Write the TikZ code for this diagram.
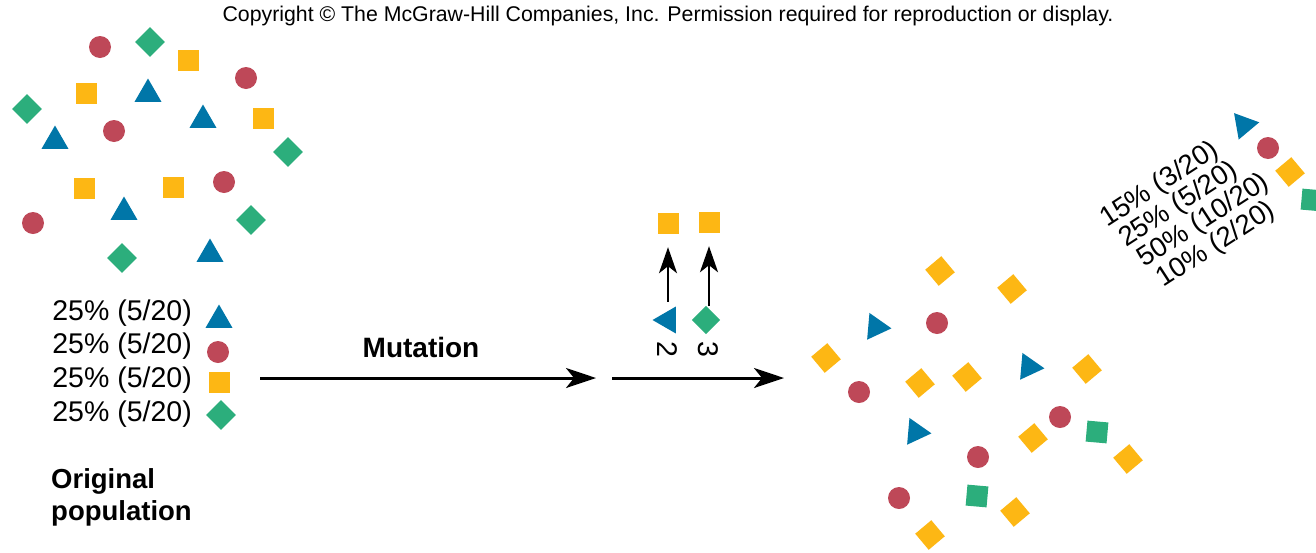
\documentclass[tikz,border=0pt]{standalone}
\usepackage{fontspec}
\setmainfont{Liberation Sans}
\usetikzlibrary{arrows.meta,shapes.geometric}
\definecolor{triblue}{RGB}{0,118,168}
\definecolor{dotred}{RGB}{190,72,88}
\definecolor{sqyellow}{RGB}{253,183,20}
\definecolor{dmdgreen}{RGB}{44,174,124}
\tikzset{
  trishape/.style={regular polygon, regular polygon sides=3, fill=triblue, inner sep=0pt, minimum size=31pt},
  triup/.style={trishape, yshift=-4pt},
  trileft/.style={trishape, shape border rotate=90, xshift=4pt},
  triright/.style={trishape, shape border rotate=-95, xshift=-4pt},
  dot/.style={circle, fill=dotred, inner sep=0pt, minimum size=22pt},
  sq/.style={rectangle, fill=sqyellow, inner sep=0pt, minimum size=21pt},
  sqtilt/.style={sq, rotate=40},
  dmd/.style={sq, fill=dmdgreen, rotate=45},
  gsq/.style={sq, fill=dmdgreen, rotate=-5},
  pct/.style={font=\fontsize{28.5}{31}\selectfont, inner sep=0pt},
  rpct/.style={font=\fontsize{27.5}{30}\selectfont, inner sep=0pt, anchor=base west, rotate=33},
  bold/.style={font=\fontsize{27.5}{31}\selectfont\bfseries, inner sep=0pt},
  arr/.style={line width=3pt, -{Stealth[length=30pt,width=20pt,inset=8pt]}},
  uparr/.style={line width=2.6pt, -{Stealth[length=26pt,width=18pt,inset=7pt]}}
}
\begin{document}
\begin{tikzpicture}[x=1pt,y=1pt]
  \useasboundingbox (0,0) rectangle (1316,-552);
  \node[font=\fontsize{21.3}{24}\selectfont, anchor=base] (copy) at (668,-21)
    {Copyright \textcopyright{} The McGraw-Hill Companies, Inc. Permission required for reproduction or display.};
  % original population
  \foreach \x/\y [count=\i] in {148/90,203/116,55/137,124/208,210/250}
    \node[triup] (ot\i) at (\x,-\y) {};
  \foreach \x/\y [count=\i] in {100/47,246/78,114/131,224/182,33/223}
    \node[dot] (oc\i) at (\x,-\y) {};
  \foreach \x/\y [count=\i] in {188/60,86/93,263/118,84/188,173/187}
    \node[sq] (os\i) at (\x,-\y) {};
  \foreach \x/\y [count=\i] in {150/42,27/109,288/152,251/220,122/258}
    \node[dmd] (od\i) at (\x,-\y) {};
  %
  \node[pct, anchor=base east] (ol1) at (192,-320) {25\% (5/20)};
  \node[pct, anchor=base east] (ol2) at (192,-353.7) {25\% (5/20)};
  \node[pct, anchor=base east] (ol3) at (192,-387.3) {25\% (5/20)};
  \node[pct, anchor=base east] (ol4) at (192,-421) {25\% (5/20)};
  \node[triup] (olt) at (219,-316) {};
  \node[dot] (olc) at (218,-352) {};
  \node[sq] (ols) at (219,-382) {};
  \node[dmd] (old) at (221,-415) {};
  \node[bold, anchor=base west] (orig) at (51,-488) {Original};
  \node[bold, anchor=base west] (popu) at (51,-520) {population};
  % mutation
  \coordinate (a1s) at (260,-378);
  \coordinate (a1e) at (596,-378);
  \draw[arr] (a1s) -- (a1e);
  \node[bold, font=\fontsize{28}{31}\selectfont\bfseries] (mut) at (421,-347) {Mutation};
  \node[sq] (ms1) at (668,-223) {};
  \node[sq] (ms2) at (709,-222) {};
  \node[trileft] (mt) at (664,-320) {};
  \node[dmd, minimum size=20pt] (md) at (706,-320) {};
  \draw[uparr, shorten <=9pt, shorten >=13.5pt] (ms1 |- mt.north) -- (ms1.south);
  \draw[uparr, shorten <=7pt, shorten >=13.5pt] (ms2 |- md.north) -- (ms2.south);
  \node[pct, rotate=-90] (n2) at (667,-349) {2};
  \node[pct, rotate=-90] (n3) at (708,-349) {3};
  \coordinate (a2s) at (612,-378);
  \coordinate (a2e) at (784,-378);
  \draw[arr] (a2s) -- (a2e);
  % new population
  \foreach \x/\y [count=\i] in {880/327,1033/367,920/432}
    \node[triright] (nt\i) at (\x,-\y) {};
  \foreach \x/\y [count=\i] in {937/323,859/392,1060/417,978/457,899/498}
    \node[dot] (nc\i) at (\x,-\y) {};
  \foreach \x/\y [count=\i] in {940/271,1012/289,826/358,920/383,967/377,1087/369,1033/438,1128/459,1015/512,930/535}
    \node[sqtilt] (ns\i) at (\x,-\y) {};
  \foreach \x/\y [count=\i] in {1097/432,977/496}
    \node[gsq] (ng\i) at (\x,-\y) {};
  %
  \begin{scope}[shift={(1107,-228)}, rotate=33]
    \node[rpct] (nl1) at (0,0) {15\% (3/20)};
    \node[rpct] (nl2) at (5,-27) {25\% (5/20)};
    \node[rpct] (nl3) at (10,-54) {50\% (10/20)};
    \node[rpct] (nl4) at (15,-81) {10\% (2/20)};
  \end{scope}
  \node[trishape, shape border rotate=-80, xshift=-4pt] (nlt) at (1248,-125) {};
  \node[dot] (nlc) at (1268,-148) {};
  \node[sqtilt] (nls) at (1290,-172) {};
  \node[gsq] (nlg) at (1312,-200) {};
\end{tikzpicture}
\end{document}
